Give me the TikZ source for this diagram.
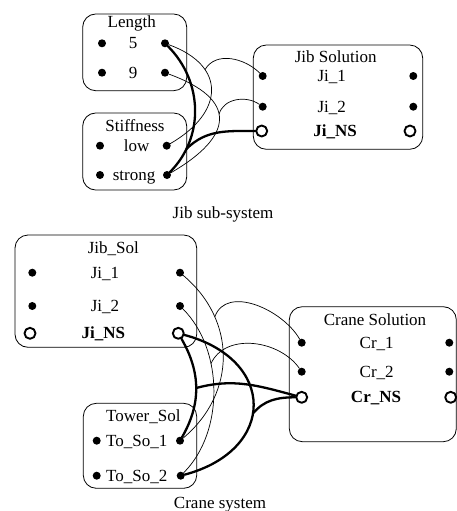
\documentclass[tikz,border=0pt]{standalone}
\usepackage{fontspec}
\setmainfont{Liberation Serif}
\begin{document}
\begin{tikzpicture}[x=1pt, y=-1pt, font=\fontsize{17}{19}\selectfont, line join=round, line cap=round,
	box/.style={draw, line width=0.8pt, rounded corners=13pt, inner sep=0pt},
	lab/.style={inner sep=0pt, text height=11pt, text depth=0pt},
	pin/.style={circle, fill, inner sep=0pt, minimum size=8pt},
	npin/.style={circle, draw, line width=1.9pt, fill=white, inner sep=0pt, minimum size=11pt},
	link/.style={line width=0.7pt},
	tlink/.style={line width=2.3pt}]
	\useasboundingbox (0,0) rectangle (457,511);
	% Jib sub-system
	\node[box, minimum width=104pt, minimum height=76.7pt] (length) at (134.7,52.35) {};
	\node[box, minimum width=104pt, minimum height=77pt] (stiff) at (134.7,151.5) {};
	\node[box, minimum width=169.4pt, minimum height=104.3pt] (jibsol) at (338,97.15) {};
	\node[lab] (tlength) at (131.7,21.7) {Length};
	\node[lab] (t5) at (133,43.3) {5};
	\node[lab] (t9) at (133,72.7) {9};
	\node[pin] (l5a) at (102,43.3) {};   \node[pin] (l5b) at (165,43.3) {};
	\node[pin] (l9a) at (102,72.7) {};   \node[pin] (l9b) at (165,72.7) {};
	\node[lab] (tstiff) at (135,126) {Stiffness};
	\node[lab] (tlow) at (136.7,145.7) {low};
	\node[lab] (tstrong) at (134,175) {strong};
	\node[pin] (lowa) at (100,145.7) {}; \node[pin] (lowb) at (166.7,145.7) {};
	\node[pin] (stra) at (100,175) {};   \node[pin] (strb) at (167,175) {};
	\node[lab] (tjibsol) at (335.7,57.3) {Jib Solution};
	\node[lab] (tji1) at (331.7,76) {Ji\_1};
	\node[lab] (tji2) at (331.7,106.7) {Ji\_2};
	\node[lab] (tjins) at (335,131) {\textbf{Ji\_NS}};
	\node[pin] (ji1a) at (262.7,76) {};  \node[pin] (ji1b) at (413.3,76) {};
	\node[pin] (ji2a) at (262.7,106.7) {}; \node[pin] (ji2b) at (413.3,106.7) {};
	\node[npin] (jinsa) at (261.7,131) {}; \node[npin] (jinsb) at (410,131) {};
	\node[lab] (tjibsys) at (223,213) {Jib sub-system};
	\draw[link] (l5b) to[out=-20,in=30,looseness=1.6] coordinate[pos=0.3] (jb) (lowb);
	\draw[link] (jb) to[out=60,in=135] (ji1a);
	\draw[link] (l9b) to[out=-20,in=30,looseness=1.9] coordinate[pos=0.45] (jc) (strb);
	\draw[link] (jc) to[out=75,in=145] (ji2a);
	\draw[tlink] (l5b) to[out=-45,in=45] coordinate[pos=0.8] (ja) (strb);
	\draw[tlink] (ja) to[out=45,in=180] (jinsa);
	% Crane system
	\node[box, minimum width=181.7pt, minimum height=112.3pt] (jsol) at (105.85,291.15) {};
	\node[box, minimum width=113.4pt, minimum height=85pt] (tsol) at (140,445.8) {};
	\node[box, minimum width=167pt, minimum height=135pt] (crsol) at (372.8,374.2) {};
	\node[lab] (tjsol) at (113.3,248.3) {Jib\_Sol};
	\node[lab] (tj1) at (105,272.7) {Ji\_1};
	\node[lab] (tj2) at (105,306) {Ji\_2};
	\node[lab] (tjns) at (103.3,333.3) {\textbf{Ji\_NS}};
	\node[pin] (j1a) at (32.3,272.7) {};  \node[pin] (j1b) at (180,272.7) {};
	\node[pin] (j2a) at (32.3,306) {};    \node[pin] (j2b) at (180,306) {};
	\node[npin] (jnsa) at (30,333.3) {};  \node[npin] (jnsb) at (178.3,333.3) {};
	\node[lab] (ttsol) at (143.3,416) {Tower\_Sol};
	\node[lab] (tto1) at (136.7,440.7) {To\_So\_1};
	\node[lab] (tto2) at (136.7,475.7) {To\_So\_2};
	\node[pin] (to1a) at (96.7,440.7) {}; \node[pin] (to1b) at (180,440.7) {};
	\node[pin] (to2a) at (96.7,475.7) {}; \node[pin] (to2b) at (180.7,475.7) {};
	\node[lab] (tcrsol) at (375,320) {Crane Solution};
	\node[lab] (tcr1) at (376.7,342.7) {Cr\_1};
	\node[lab] (tcr2) at (376.7,371.7) {Cr\_2};
	\node[lab] (tcrns) at (376,397.3) {\textbf{Cr\_NS}};
	\node[pin] (cr1a) at (301.7,342.7) {}; \node[pin] (cr1b) at (449.3,342.7) {};
	\node[pin] (cr2a) at (301.7,371.7) {}; \node[pin] (cr2b) at (449.3,371.7) {};
	\node[npin] (crnsa) at (301.7,397.3) {}; \node[npin] (crnsb) at (450.7,397.3) {};
	\node[lab] (tcrsys) at (220,502.7) {Crane system};
	\draw[link] (j1b) to[out=-40,in=40,looseness=1.1] coordinate[pos=0.27] (jd) (to1b);
	\draw[link] (jd) to[out=70,in=120] (cr1a);
	\draw[link] (j2b) to[out=-45,in=45,looseness=0.9] coordinate[pos=0.35] (je) (to2b);
	\draw[link] (je) to[out=65,in=125] (cr2a);
	\draw[tlink] (jnsb) to[out=-60,in=60] coordinate[pos=0.5] (jf) (to1b);
	\draw[tlink] (jf) to[out=15,in=165] (crnsa);
	\draw[tlink] (jnsb) to[out=-15,in=15,looseness=1.75] coordinate[pos=0.55] (jg) (to2b);
	\draw[tlink] (jg) to[out=50,in=180] (crnsa);
\end{tikzpicture}
\end{document}
